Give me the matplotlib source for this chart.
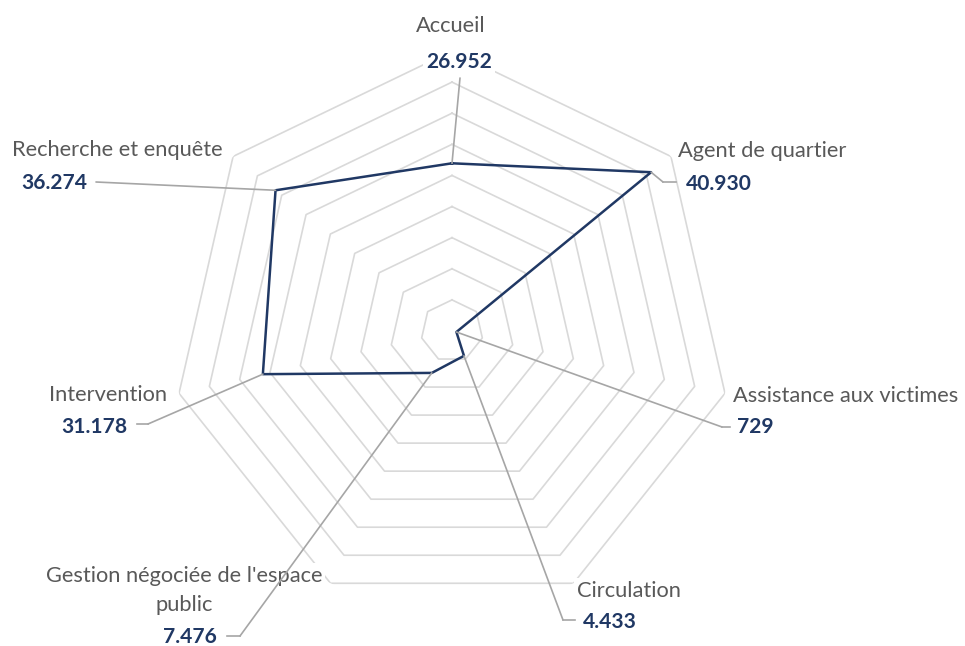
import numpy as np
import matplotlib
matplotlib.use("Agg")
import matplotlib.pyplot as plt
from matplotlib.lines import Line2D
from matplotlib.patches import ConnectionPatch

categories = ["Accueil", "Agent de quartier", "Assistance aux victimes", "Circulation",
              "Gestion négociée de l'espace\npublic", "Intervention", "Recherche et enquête"]
values = [26952, 40930, 729, 4433, 7476, 31178, 36274]
ring_step = 5000
r_max = 45000

W, H = 965, 646
navy = "#203864"
grey_text = "#595959"
ring_col = "#D9D9D9"
leader_col = "#A6A6A6"
font = "Lato"

# label layout in picture pixels (y from top)
name_pos = [(451, 32, "center"), (678, 157, "left"), (733, 402, "left"), (577, 597, "left"),
            (184, 582, "center"), (108, 401, "center"), (12, 156, "left")]
value_pos = [(459, 68, "center"), (686, 190, "left"), (737, 433, "left"), (583, 628, "left"),
             (190, 643, "center"), (94, 433, "center"), (21, 189, "left")]
leader_end = [(460, 78, None), (663, 182, 676), (722, 427, 730), (563, 620, 575),
              (240, 636, 227), (148, 424, 137), (96, 182, None)]

fig = plt.figure(figsize=(W / 100, H / 100), dpi=100)
cx, cy, rad = 452, 331, 280
ax = fig.add_axes([(cx - rad) / W, (H - cy - rad) / H, 2 * rad / W, 2 * rad / H], projection="polar")
ax.set_theta_zero_location("N")
ax.set_theta_direction(-1)
ax.set_ylim(0, r_max)
ax.set_axis_off()

n = len(categories)
theta = np.linspace(0, 2 * np.pi, n, endpoint=False)
theta_c = np.append(theta, theta[0])

for r in range(ring_step, r_max + 1, ring_step):
    ax.plot(theta_c, [r] * (n + 1), color=ring_col, lw=1.2, zorder=1)

ax.plot(theta_c, values + values[:1], color=navy, lw=1.8, zorder=3)

renderer = fig.canvas.get_renderer()


def fit_size(text, width, weight="normal"):
    t = fig.text(0, 0, text, fontsize=10, family=font, weight=weight)
    w = t.get_window_extent(renderer).width
    t.remove()
    return 10 * width / w


name_size = fit_size("Recherche et enquête", 212)
value_size = fit_size("36.274", 66, "bold")

box = dict(facecolor="white", edgecolor="none", pad=2)
for i, cat in enumerate(categories):
    x, y, ha = name_pos[i]
    lines = cat.split("\n")
    for k, line in enumerate(lines):
        fig.text(x / W, 1 - (y + 29 * k) / H, line, ha=ha, va="baseline", fontsize=name_size,
                 family=font, color=grey_text, bbox=box, zorder=4)
    x, y, ha = value_pos[i]
    label = f"{values[i]:,}".replace(",", ".")
    fig.text(x / W, 1 - y / H, label, ha=ha, va="baseline", fontsize=value_size,
             family=font, weight="bold", color=navy, bbox=box, zorder=4)

    ex, ey, hx = leader_end[i]
    con = ConnectionPatch(xyA=(theta[i], values[i]), coordsA=ax.transData,
                          xyB=(ex, H - ey), coordsB="figure pixels",
                          color=leader_col, lw=1.2, zorder=5)
    fig.add_artist(con)
    if hx is not None:
        fig.add_artist(Line2D([ex / W, hx / W], [1 - ey / H, 1 - ey / H],
                              transform=fig.transFigure, color=leader_col, lw=1.2, zorder=5))

fig.savefig("out.png", dpi=100)
